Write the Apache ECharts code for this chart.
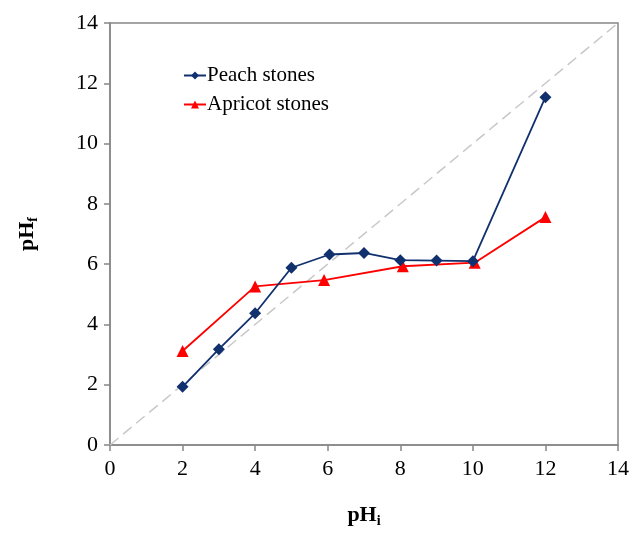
<!DOCTYPE html>
<html>
<head>
<meta charset="utf-8">
<script src="https://cdn.jsdelivr.net/npm/echarts@6/dist/echarts.min.js"></script>
<style>
  html, body { margin: 0; padding: 0; background: #fff; }
  #main { width: 633px; height: 533px; }
</style>
</head>
<body>
<div id="main"></div>
<script>
// pH initial / pH final readings
var peachX = [2, 3, 4, 5, 6.05, 7, 8, 9, 10, 12];
var peachY = [1.93, 3.18, 4.37, 5.88, 6.32, 6.37, 6.13, 6.12, 6.1, 11.54];
var apricotX = [2, 4, 5.9, 8.07, 10.05, 12];
var apricotY = [3.12, 5.26, 5.47, 5.93, 6.05, 7.56];
var diagonal = [[0, 0], [14, 14]];

function pairs(xs, ys) {
    return xs.map(function (x, i) { return [x, ys[i]]; });
}

var chart = echarts.init(document.getElementById('main'));
var serif = '"Liberation Serif", "DejaVu Serif", serif';

var nameRich = {
    b: { fontFamily: serif, fontSize: 22, fontWeight: 'bold', color: '#000' },
    s: { fontFamily: serif, fontSize: 14, fontWeight: 'bold', color: '#000', verticalAlign: 'bottom', padding: [11, 0, 0, 0] }
};

var option = {
    backgroundColor: '#fff',
    animation: false,
    grid: {
        left: 110, right: 15, top: 23, bottom: 86,
        show: true,
        borderColor: '#878787',
        borderWidth: 1.5
    },
    legend: {
        orient: 'vertical',
        left: 178,
        top: 60,
        itemWidth: 22,
        itemHeight: 10,
        itemGap: 8,
        textStyle: { fontFamily: serif, fontSize: 21, color: '#000', padding: [0, 0, 0, -4] },
        data: ['Peach stones', 'Apricot stones']
    },
    xAxis: {
        type: 'value',
        min: 0, max: 14, interval: 2,
        name: '{b|pH}{s|i}',
        nameLocation: 'middle',
        nameGap: 58,
        nameTextStyle: { rich: nameRich },
        axisLine: { show: true, lineStyle: { color: '#878787', width: 1.5 } },
        axisTick: { show: true, length: 6, lineStyle: { color: '#878787', width: 1.5 } },
        axisLabel: { fontFamily: serif, fontSize: 22, color: '#000', margin: 13 },
        splitLine: { show: false }
    },
    yAxis: {
        type: 'value',
        min: 0, max: 14, interval: 2,
        name: '{b|pH}{s|f}',
        nameLocation: 'middle',
        nameGap: 70,
        nameTextStyle: { rich: nameRich },
        axisLine: { show: true, lineStyle: { color: '#878787', width: 1.5 } },
        axisTick: { show: true, length: 6, lineStyle: { color: '#878787', width: 1.5 } },
        axisLabel: { fontFamily: serif, fontSize: 22, color: '#000', margin: 12 },
        splitLine: { show: false }
    },
    series: [
        {
            name: 'diagonal',
            type: 'line',
            data: diagonal,
            symbol: 'none',
            silent: true,
            lineStyle: { color: '#c8c8c8', width: 1.5, type: [11, 6] },
            z: 1
        },
        {
            name: 'Peach stones',
            type: 'line',
            data: pairs(peachX, peachY),
            symbol: 'diamond',
            symbolSize: 12,
            color: '#11306e',
            itemStyle: { color: '#11306e' },
            lineStyle: { color: '#11306e', width: 1.8 },
            z: 3
        },
        {
            name: 'Apricot stones',
            type: 'line',
            data: pairs(apricotX, apricotY),
            symbol: 'triangle',
            symbolSize: 12,
            color: '#ff0000',
            itemStyle: { color: '#ff0000' },
            lineStyle: { color: '#ff0000', width: 1.8 },
            z: 2
        }
    ]
};

chart.setOption(option);

window.addEventListener('resize', function () {
    chart.resize();
});
</script>
</body>
</html>
